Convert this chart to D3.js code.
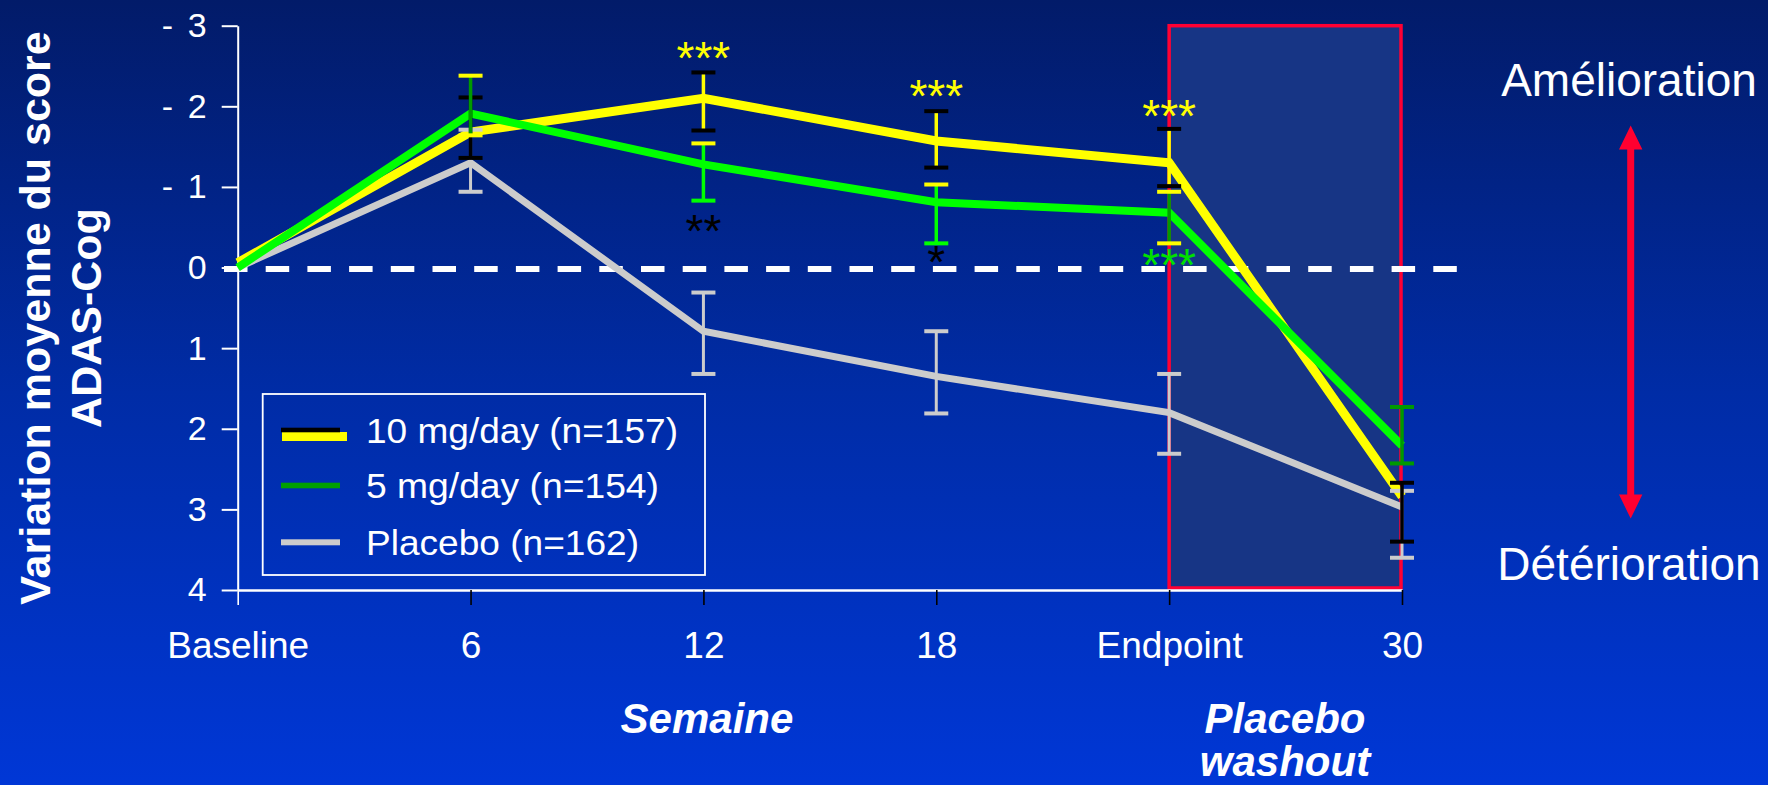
<!DOCTYPE html>
<html><head><meta charset="utf-8">
<script src="https://cdn.jsdelivr.net/npm/d3@7"></script>
<style>
body{margin:0;background:#0030b0;}
svg{display:block;}
text{font-family:"Liberation Sans",Arial,Helvetica,sans-serif;}
</style>
</head><body>
<svg id="chart" width="1768" height="785"></svg>
<script>
// ---------- data ----------
const weeks = ["Baseline", "6", "12", "18", "Endpoint", "30"];
const yTickValues = [-3, -2, -1, 0, 1, 2, 3, 4];
const yTickLabels = ["- 3", "- 2", "- 1", "0", "1", "2", "3", "4"];
const seriesNames = ["10 mg/day (n=157)", "5 mg/day (n=154)", "Placebo (n=162)"];

// mean change of ADAS-Cog score (negative = improvement)
const mg10 = [-0.06, -1.68, -2.10, -1.57, -1.30, 2.84];
const mg10Low = [null, -2.11, -2.42, -1.94, -1.72, 2.67];
const mg10High = [null, -1.36, -1.70, -1.24, -1.01, 3.40];

const mg5 = [0.00, -1.91, -1.28, -0.81, -0.68, 2.21];
const mg5Low = [null, -2.38, -1.54, -1.03, -0.94, 1.73];
const mg5High = [null, -1.64, -0.83, -0.30, -0.30, 2.43];

const placebo = [0.00, -1.30, 0.79, 1.35, 1.80, 2.97];
const placeboLow = [null, -1.71, 0.31, 0.79, 1.32, 2.77];
const placeboHigh = [null, -0.94, 1.32, 1.81, 2.31, 3.60];

// significance markers
const sigWeeks = ["12", "12", "18", "18", "Endpoint", "Endpoint"];
const sigTexts = ["***", "**", "***", "*", "***", "***"];
const sigValues = [-2.72, -0.58, -2.25, -0.19, -2.00, -0.15];

const washoutStart = "Endpoint", washoutEnd = "30";
const xTitle = "Semaine";
const washoutTitle = ["Placebo", "washout"];
const yTitle = ["Variation moyenne du score", "ADAS-Cog"];
const sideLabels = ["Amélioration", "Détérioration"];

// ---------- styles ----------
const YEL = "#ffff00", BLK = "#000000", GRN = "#00ff00", DGR = "#009a00", GRY = "#cccccc";
const sigColors = [YEL, BLK, YEL, BLK, YEL, "#00e000"];
const mg10Stem = [null, BLK, YEL, YEL, YEL, BLK];
const mg10CapTop = [null, BLK, BLK, BLK, BLK, BLK];
const mg10CapBot = [null, BLK, BLK, BLK, BLK, BLK];
const mg5Stem = [null, DGR, GRN, GRN, DGR, DGR];
const mg5CapTop = [null, YEL, YEL, YEL, YEL, DGR];
const mg5CapBot = [null, YEL, GRN, GRN, YEL, DGR];
const pbStem = [null, GRY, GRY, GRY, GRY, GRY];
const legendTextLen = [312, 293, 273];

const svg = d3.select("#chart");
const W = 1768, H = 785;

const defs = svg.append("defs");
const grad = defs.append("linearGradient").attr("id", "bg").attr("x1", 0).attr("y1", 0).attr("x2", 0).attr("y2", 1);
grad.append("stop").attr("offset", "0%").attr("stop-color", "#021b69");
grad.append("stop").attr("offset", "50%").attr("stop-color", "#002ca6");
grad.append("stop").attr("offset", "100%").attr("stop-color", "#0037d6");
svg.append("rect").attr("width", W).attr("height", H).attr("fill", "url(#bg)");

const x = d3.scalePoint().domain(weeks).range([237.7, 1402]);
const y = d3.scaleLinear().domain([-3, 4]).range([25.7, 590]);

// washout region
svg.append("rect")
  .attr("x", x(washoutStart)).attr("y", y(-3))
  .attr("width", x(washoutEnd) - x(washoutStart) - 1)
  .attr("height", y(4) - y(-3) - 2)
  .attr("fill", "#173585").attr("stroke", "#ff0033").attr("stroke-width", 3.5);

// zero dashed line
svg.append("line")
  .attr("x1", 224).attr("x2", 1467).attr("y1", y(0) + 1.5).attr("y2", y(0) + 1.5)
  .attr("stroke", "#ffffff").attr("stroke-width", 6).attr("stroke-dasharray", "23.5 18.2");

// x axis
const gx = svg.append("g").attr("transform", `translate(0,${y(4)})`)
  .call(d3.axisBottom(x).tickSize(15).tickPadding(27).tickSizeOuter(0));
gx.select(".domain").attr("stroke", "#ffffff").attr("stroke-width", 2.5);
gx.selectAll(".tick line").attr("stroke", (d, i) => i === 0 ? "#ffffff" : "#000000").attr("stroke-width", 1.6);
gx.selectAll(".tick text").attr("fill", "#ffffff").attr("font-size", 37)
  .attr("font-family", '"Liberation Sans",Arial,sans-serif');

// y axis
const gy = svg.append("g").attr("transform", `translate(${x(weeks[0])},0)`)
  .call(d3.axisLeft(y).tickValues(yTickValues).tickFormat((d, i) => yTickLabels[i])
    .tickSize(16).tickPadding(15).tickSizeOuter(0));
gy.select(".domain").attr("stroke", "#ffffff").attr("stroke-width", 2);
gy.selectAll(".tick line").attr("stroke", "#ffffff").attr("stroke-width", 2);
gy.selectAll(".tick text").attr("fill", "#ffffff").attr("font-size", 34)
  .attr("font-family", '"Liberation Sans",Arial,sans-serif')
  .each(function (d, i) {
    if (yTickLabels[i].startsWith("-")) d3.select(this).attr("textLength", 45).attr("lengthAdjust", "spacing");
  });

// lines
const line = d3.line().x((d, i) => x(weeks[i])).y(d => y(d));
svg.append("path").attr("d", line(placebo)).attr("fill", "none").attr("stroke", GRY).attr("stroke-width", 7);
svg.append("path").attr("d", line(mg10)).attr("fill", "none").attr("stroke", YEL).attr("stroke-width", 9);
svg.append("path").attr("d", line(mg5)).attr("fill", "none").attr("stroke", GRN).attr("stroke-width", 8);

// error bars
function errorBars(low, high, stem, capTop, capBot, stemW) {
  const g = svg.append("g");
  weeks.forEach((w, i) => {
    if (low[i] == null) return;
    const cx = x(w);
    g.append("line").attr("x1", cx).attr("x2", cx).attr("y1", y(low[i])).attr("y2", y(high[i]))
      .attr("stroke", stem[i]).attr("stroke-width", stemW);
    g.append("line").attr("x1", cx - 12).attr("x2", cx + 12).attr("y1", y(low[i])).attr("y2", y(low[i]))
      .attr("stroke", capTop[i]).attr("stroke-width", 4);
    g.append("line").attr("x1", cx - 12).attr("x2", cx + 12).attr("y1", y(high[i])).attr("y2", y(high[i]))
      .attr("stroke", capBot[i]).attr("stroke-width", 4);
  });
}
errorBars(placeboLow, placeboHigh, pbStem, pbStem, pbStem, 3);
errorBars(mg10Low, mg10High, mg10Stem, mg10CapTop, mg10CapBot, 3.5);
errorBars(mg5Low, mg5High, mg5Stem, mg5CapTop, mg5CapBot, 3.5);

// significance stars
svg.append("g").selectAll("text").data(sigTexts).join("text")
  .attr("x", (d, i) => x(sigWeeks[i]))
  .attr("y", (d, i) => y(sigValues[i]) + 26)
  .attr("text-anchor", "middle").attr("font-size", 46)
  .attr("fill", (d, i) => sigColors[i]).text(d => d);

// legend
const lg = svg.append("g");
lg.append("rect").attr("x", 262.7).attr("y", 394).attr("width", 442.3).attr("height", 181)
  .attr("fill", "none").attr("stroke", "#ffffff").attr("stroke-width", 1.8);
lg.append("rect").attr("x", 282).attr("y", 432).attr("width", 65).attr("height", 9).attr("fill", YEL);
lg.append("rect").attr("x", 281).attr("y", 427.7).attr("width", 59).attr("height", 4.6).attr("fill", BLK);
lg.append("rect").attr("x", 281).attr("y", 482.7).attr("width", 59).attr("height", 5.6).attr("fill", "#00a000");
lg.append("rect").attr("x", 281).attr("y", 539.3).attr("width", 59).attr("height", 6).attr("fill", GRY);
lg.selectAll("text.lab").data(seriesNames).join("text").attr("class", "lab")
  .attr("x", 366).attr("y", (d, i) => [443, 498, 555][i])
  .attr("font-size", 35).attr("fill", "#ffffff")
  .attr("textLength", (d, i) => legendTextLen[i]).attr("lengthAdjust", "spacingAndGlyphs")
  .text(d => d);

// axis titles
svg.append("text").attr("x", 707).attr("y", 733).attr("text-anchor", "middle")
  .attr("font-size", 42).attr("font-weight", "bold").attr("font-style", "italic")
  .attr("fill", "#ffffff").text(xTitle);
svg.selectAll("text.wo").data(washoutTitle).join("text").attr("class", "wo")
  .attr("x", 1285).attr("y", (d, i) => 733 + i * 43).attr("text-anchor", "middle")
  .attr("font-size", 42).attr("font-weight", "bold").attr("font-style", "italic")
  .attr("fill", "#ffffff").text(d => d);
svg.selectAll("text.yt").data(yTitle).join("text").attr("class", "yt")
  .attr("transform", (d, i) => `translate(${50 + i * 51},318) rotate(-90)`)
  .attr("text-anchor", "middle").attr("font-size", 43).attr("font-weight", "bold")
  .attr("fill", "#ffffff").text(d => d);

// side labels and arrow
svg.selectAll("text.side").data(sideLabels).join("text").attr("class", "side")
  .attr("x", 1629).attr("y", (d, i) => [96, 580][i]).attr("text-anchor", "middle")
  .attr("font-size", 46).attr("fill", "#ffffff").text(d => d);
const arX = 1630.7, arTop = 125.5, arBot = 518.6, hw = 11.7, hl = 24, sw = 3.5;
svg.append("path").attr("fill", "#ff0030").attr("d",
  `M${arX},${arTop} L${arX + hw},${arTop + hl} L${arX + sw},${arTop + hl} L${arX + sw},${arBot - hl} L${arX + hw},${arBot - hl}
   L${arX},${arBot} L${arX - hw},${arBot - hl} L${arX - sw},${arBot - hl} L${arX - sw},${arTop + hl} L${arX - hw},${arTop + hl} Z`);
</script>
</body></html>
